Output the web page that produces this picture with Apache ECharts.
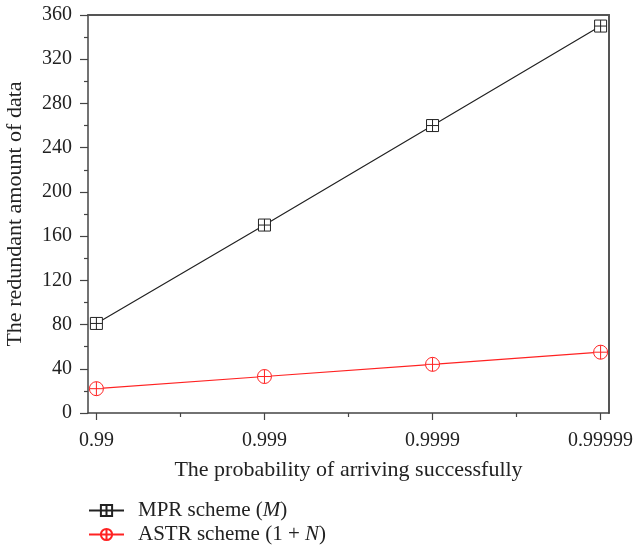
<!DOCTYPE html>
<html>
<head>
<meta charset="utf-8">
<script src="https://cdn.jsdelivr.net/npm/echarts@6/dist/echarts.min.js"></script>
<style>
    html, body { margin: 0; padding: 0; background: #fff; }
    #main { width: 635px; height: 550px; }
</style>
</head>
<body>
<div id="main"></div>
<script>
// categories on the x axis
var categories = ['0.99', '0.999', '0.9999', '0.99999'];
// series values
var mprData = [81, 170, 260, 350];
var astrData = [22, 33, 44, 55];
var yTicks = [0, 40, 80, 120, 160, 200, 240, 280, 320, 360];

var FONT = '"Liberation Serif", "DejaVu Serif", serif';
var AXIS = '#444';

// square with a cross, circle with a cross
var squarePlus = 'path://M0,0H10V10H0ZM5,0V10M0,5H10';
var circlePlus = 'path://M10,0A10,10,0,1,1,-10,0A10,10,0,1,1,10,0ZM-10,0H10M0,-10V10';

var myChart = echarts.init(document.getElementById('main'));

function pts(arr) {
    return arr.map(function (v, i) { return [i, v]; });
}
var catIdx = categories.map(function (c, i) { return i; });

var option = {
    animation: false,
    grid: { left: 88, right: 26, top: 15, bottom: 137, outerBoundsMode: 'none', containLabel: false },
    xAxis: [
        {
            type: 'value',
            min: -0.05,
            max: 3.05,
            position: 'bottom',
            name: 'The probability of arriving successfully',
            nameLocation: 'middle',
            nameGap: 46,
            nameTextStyle: { fontFamily: FONT, fontSize: 22, color: '#222' },
            axisLine: { onZero: false, lineStyle: { color: AXIS, width: 1.5 } },
            axisTick: { show: true, length: 7, customValues: catIdx, lineStyle: { color: AXIS, width: 1.2 } },
            axisLabel: {
                customValues: catIdx,
                fontFamily: FONT, fontSize: 20, color: '#222', margin: 18,
                formatter: function (v) { return categories[Math.round(v)]; }
            },
            splitLine: { show: false }
        },
        {
            type: 'value',
            min: -0.05,
            max: 3.05,
            position: 'bottom',
            axisLine: { show: false, onZero: false },
            axisTick: { show: true, length: 4, customValues: [0.5, 1.5, 2.5], lineStyle: { color: AXIS, width: 1.2 } },
            axisLabel: { show: false },
            splitLine: { show: false }
        },
        {
            type: 'value',
            min: -0.05,
            max: 3.05,
            position: 'top',
            axisLine: { show: true, onZero: false, lineStyle: { color: '#555', width: 2 } },
            axisTick: { show: false },
            axisLabel: { show: false },
            splitLine: { show: false }
        }
    ],
    yAxis: [
        {
            type: 'value',
            min: 0,
            max: 360,
            interval: 40,
            position: 'left',
            name: 'The redundant amount of data',
            nameLocation: 'middle',
            nameGap: 62,
            nameTextStyle: { fontFamily: FONT, fontSize: 22, color: '#222' },
            axisLine: { show: true, onZero: false, lineStyle: { color: AXIS, width: 1.5 } },
            axisTick: { show: true, length: 8, lineStyle: { color: AXIS, width: 1.2 } },
            minorTick: { show: true, splitNumber: 2, length: 4, lineStyle: { color: AXIS, width: 1.2 } },
            axisLabel: {
                fontFamily: FONT, fontSize: 20, color: '#222', margin: 16,
                formatter: function (v) { return yTicks.indexOf(v) >= 0 ? String(v) : ''; }
            },
            splitLine: { show: false }
        },
        {
            type: 'value',
            min: 0,
            max: 360,
            position: 'right',
            axisLine: { show: true, onZero: false, lineStyle: { color: '#555', width: 2 } },
            axisTick: { show: false },
            axisLabel: { show: false },
            splitLine: { show: false }
        }
    ],
    legend: {
        orient: 'vertical',
        left: 88,
        top: 500,
        padding: 0,
        itemWidth: 35,
        itemHeight: 14,
        itemGap: 3,
        textStyle: {
            fontFamily: FONT, fontSize: 21, color: '#222', padding: [0, 0, 0, 9],
            rich: {
                n: { fontFamily: FONT, fontSize: 21, color: '#222' },
                i: { fontFamily: FONT, fontSize: 21, color: '#222', fontStyle: 'italic' }
            }
        },
        formatter: function (name) {
            if (name === 'MPR') return '{n|MPR scheme (}{i|M}{n|)}';
            return '{n|ASTR scheme (1 + }{i|N}{n|)}';
        },
        data: ['MPR', 'ASTR']
    },
    series: [
        {
            name: 'MPR',
            type: 'line',
            data: pts(mprData),
            symbol: squarePlus,
            symbolSize: 12,
            lineStyle: { color: '#222', width: 1.2 },
            itemStyle: { color: '#fff', borderColor: '#222', borderWidth: 1 },
            z: 3
        },
        {
            name: 'ASTR',
            type: 'line',
            data: pts(astrData),
            symbol: circlePlus,
            symbolSize: 14,
            lineStyle: { color: '#f22', width: 1.2 },
            itemStyle: { color: '#fff', borderColor: '#f22', borderWidth: 1 },
            z: 3
        }
    ]
};
myChart.setOption(option);
</script>
</body>
</html>
